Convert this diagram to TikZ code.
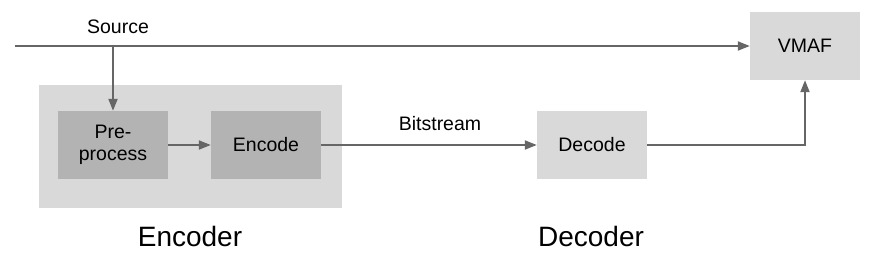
\documentclass[tikz,border=0pt]{standalone}
\usepackage{fontspec}
\setmainfont{Liberation Sans}
\usetikzlibrary{arrows.meta}
\definecolor{lightbox}{HTML}{D9D9D9}
\definecolor{darkbox}{HTML}{B3B3B3}
\definecolor{linegray}{HTML}{666666}
\tikzset{
  block/.style={fill=lightbox, minimum width=110pt, minimum height=68pt,
    inner sep=0pt, align=center, font=\fontsize{19.5}{22}\selectfont},
  innerblock/.style={block, fill=darkbox},
  tag/.style={inner sep=0pt, font=\fontsize{19.5}{22}\selectfont},
  bigtag/.style={inner sep=0pt, font=\fontsize{28}{32}\selectfont},
  wire/.style={draw=linegray, line width=2pt, -{Triangle[length=12pt,width=9pt]}}
}
\begin{document}
\begin{tikzpicture}[x=1pt,y=-1pt]
  \useasboundingbox (0,0) rectangle (876,263);
  \node[block, minimum width=303pt, minimum height=123pt] (encbox) at (190.5,146.5) {};
  \node[innerblock] (pre) at (113,145) {Pre-\\process};
  \node[innerblock] (encode) at (266,145) {Encode};
  \node[block] (decode) at (592,145) {Decode};
  \node[block] (vmaf) at (805,46) {VMAF};
  \coordinate (src) at (15,46);
  \node[tag] (source) at (118,27) {Source};
  \node[tag] (bitstream) at (440,124) {Bitstream};
  \node[bigtag] (encoder) at (190,236) {Encoder};
  \node[bigtag] (decoder) at (591,236) {Decoder};
  \draw[wire] (src) -- (vmaf);
  \draw[wire] (pre |- src) -- (pre);
  \draw[wire] (pre) -- (encode);
  \draw[wire] (encode) -- (decode);
  \draw[wire] (decode) -| (vmaf);
\end{tikzpicture}
\end{document}
